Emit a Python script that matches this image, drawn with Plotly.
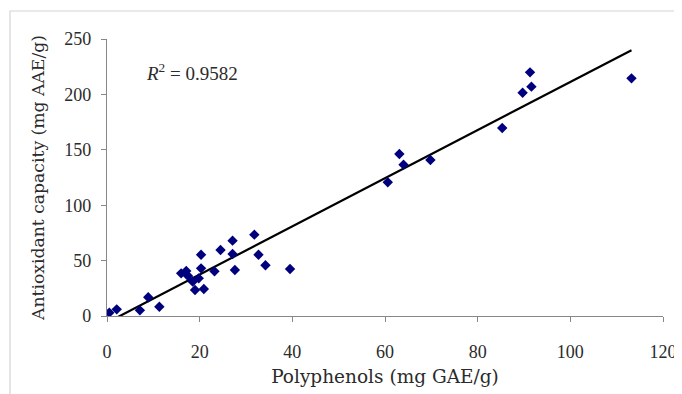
import numpy as np
import plotly.graph_objects as go

polyphenols = [0.5, 2.1, 7.1, 8.9, 11.3, 16.0, 17.1, 17.5, 18.5, 19.0, 19.8, 20.3, 20.3, 20.9,
               23.2, 24.5, 27.1, 27.1, 27.6, 31.8, 32.7, 34.2, 39.5,
               60.6, 63.1, 64.0, 69.8, 85.3, 89.7, 91.3, 91.6, 113.2]
antioxidant = [3.0, 6.0, 5.1, 16.9, 8.4, 38.5, 40.6, 36.1, 31.0, 23.5, 34.0, 43.0, 55.3, 24.4,
               40.3, 59.6, 68.0, 56.0, 41.5, 73.4, 55.3, 45.8, 42.4,
               120.7, 146.2, 136.6, 140.8, 169.7, 201.5, 219.9, 207.0, 214.5]

x_ticks = [0, 20, 40, 60, 80, 100, 120]
y_ticks = [0, 50, 100, 150, 200, 250]
r2_label = "<i>R</i><sup>2</sup> = 0.9582"
x_title = "Polyphenols (mg GAE/g)"
y_title = "Antioxidant capacity (mg AAE/g)"

slope, intercept = np.polyfit(polyphenols, antioxidant, 1)
x_fit = np.array([min(polyphenols), max(polyphenols)])
y_fit = slope * x_fit + intercept

NUMFONT = "Liberation Serif"
TITLEFONT = "DejaVu Serif"
TXT = "#2b2b2b"
AX = "#878787"

fig = go.Figure()
fig.add_trace(go.Scatter(x=x_fit, y=y_fit, mode="lines",
                         line=dict(color="black", width=2.2), hoverinfo="skip"))
fig.add_trace(go.Scatter(x=polyphenols, y=antioxidant, mode="markers",
                         marker=dict(symbol="diamond", size=8, color="#00007f")))

# page body has an 8px margin, so the figure is sized to fit the 682x394 window
fig.update_layout(
    width=674, height=386,
    margin=dict(l=99, r=19, t=31, b=78, autoexpand=False),
    paper_bgcolor="white", plot_bgcolor="white",
    showlegend=False,
    font=dict(family=NUMFONT, color=TXT, size=16),
    xaxis=dict(range=[0, 120], tickvals=x_ticks, showgrid=False, zeroline=False,
               showline=True, linecolor=AX, linewidth=1.3, ticks="outside",
               tickcolor=AX, ticklen=5, tickwidth=1.3, ticklabelstandoff=14,
               tickfont=dict(size=18, family=NUMFONT, color=TXT),
               title=dict(text=x_title, font=dict(size=18.5, family=TITLEFONT, color=TXT), standoff=9)),
    yaxis=dict(range=[0, 250], tickvals=y_ticks, showgrid=False, zeroline=False,
               showline=True, linecolor=AX, linewidth=1.3, ticks="outside",
               tickcolor=AX, ticklen=5, tickwidth=1.3, ticklabelstandoff=6,
               tickfont=dict(size=18, family=NUMFONT, color=TXT),
               title=dict(text=y_title, font=dict(size=17.2, family=TITLEFONT, color=TXT), standoff=15)),
    annotations=[dict(text=r2_label, xref="paper", yref="paper", x=0.066, y=0.881,
                      xanchor="left", yanchor="middle", showarrow=False,
                      font=dict(size=19, family=NUMFONT, color=TXT))],
    shapes=[dict(type="rect", xref="paper", yref="paper",
                 x0=-0.1745, x1=1.06, y0=-0.32, y1=1.101,
                 line=dict(color="#d4d4d4", width=1.2), fillcolor="rgba(0,0,0,0)", layer="below")],
)

fig.write_html("out.html")
